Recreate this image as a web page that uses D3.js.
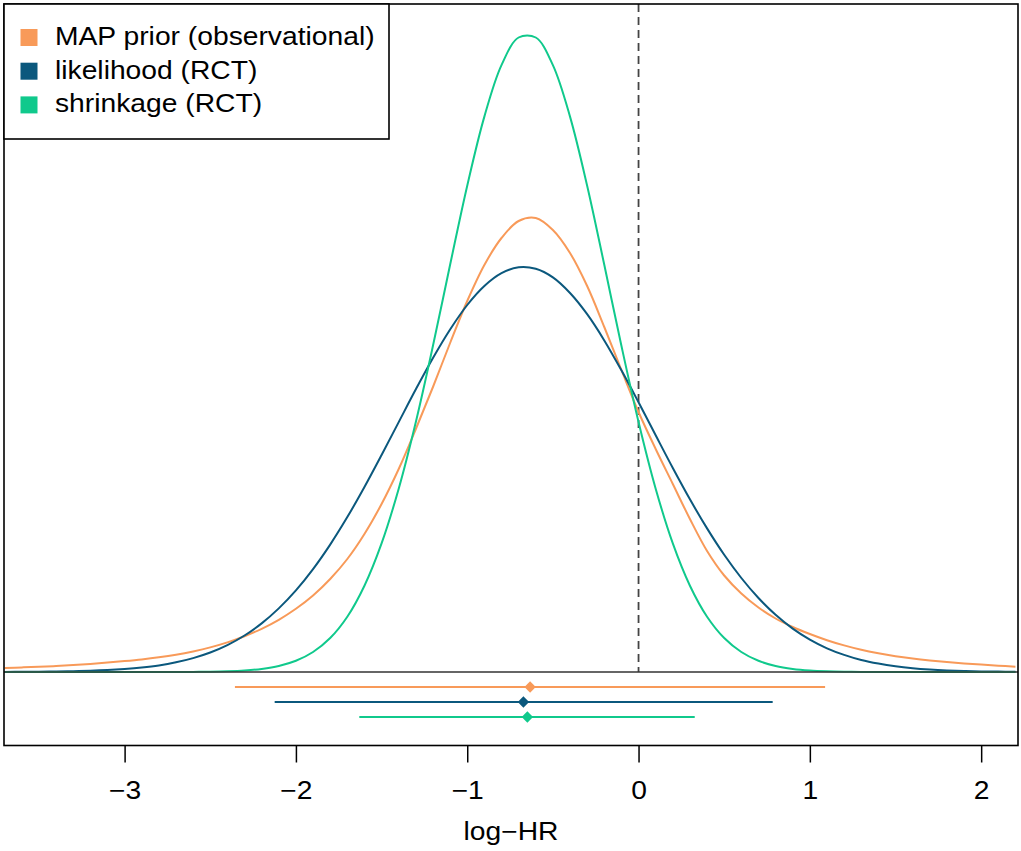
<!DOCTYPE html>
<html lang="en">
<head>
    <meta charset="UTF-8">
    <title>log-HR densities</title>
    <script src="https://d3js.org/d3.v7.min.js"></script>
    <style>
        body { margin: 0; background: #fff; }
        text { font-family: "Liberation Sans", Arial, Helvetica, sans-serif; fill: #000; }
    </style>
</head>
<body>
    <div id="my_dataviz"></div>

    <script>

        const logHR = [-3.7, -3.6, -3.5, -3.4, -3.3, -3.2, -3.1, -3.0, -2.9, -2.8,
                       -2.7, -2.6, -2.5, -2.4, -2.3, -2.2, -2.1, -2.0, -1.9, -1.8,
                       -1.7, -1.6, -1.5, -1.4, -1.3, -1.2, -1.1, -1.0, -0.9, -0.8,
                       -0.7, -0.6, -0.5, -0.4, -0.3, -0.2, -0.1, 0.0, 0.1, 0.2,
                       0.3, 0.4, 0.5, 0.6, 0.7, 0.8, 0.9, 1.0, 1.1, 1.2,
                       1.3, 1.4, 1.5, 1.6, 1.7, 1.8, 1.9, 2.0, 2.1, 2.2];

        // density values (arbitrary units)
        const mapPrior = [0.0040, 0.0046, 0.0052, 0.0060, 0.0070, 0.0081, 0.0094, 0.0109, 0.0126, 0.0147,
                          0.0173, 0.0206, 0.0246, 0.0296, 0.0358, 0.0432, 0.0522, 0.0632, 0.0765, 0.0930,
                          0.113, 0.138, 0.168, 0.203, 0.243, 0.285, 0.329, 0.371, 0.407, 0.434,
                          0.451, 0.454, 0.442, 0.419, 0.386, 0.345, 0.302, 0.260, 0.223, 0.188,
                          0.153, 0.121, 0.0965, 0.0785, 0.0645, 0.0535, 0.0450, 0.0380, 0.0318, 0.0266,
                          0.0222, 0.0187, 0.0158, 0.0135, 0.0116, 0.0100, 0.0086, 0.0074, 0.0063, 0.0053];

        const likelihood = [0.0001, 0.0002, 0.0003, 0.0005, 0.0008, 0.0012, 0.0019, 0.0030, 0.0045, 0.0066,
                            0.0097, 0.0139, 0.0195, 0.0269, 0.0365, 0.0486, 0.0636, 0.0816, 0.1029, 0.1274,
                            0.1549, 0.1850, 0.2170, 0.2499, 0.2827, 0.3140, 0.3425, 0.3670, 0.3860, 0.3988,
                            0.4047, 0.4032, 0.3946, 0.3790, 0.3578, 0.3316, 0.3017, 0.2697, 0.2367, 0.2040,
                            0.1727, 0.1436, 0.1172, 0.0940, 0.0740, 0.0572, 0.0434, 0.0324, 0.0237, 0.0171,
                            0.0120, 0.0084, 0.0057, 0.0038, 0.0025, 0.0016, 0.0010, 0.0006, 0.0004, 0.0002];

        const shrinkage = [0, 0, 0, 0, 0, 0, 0, 0, 0, 0,
                           0.0001, 0.0001, 0.0003, 0.0007, 0.0015, 0.0031, 0.0060, 0.0112, 0.0200, 0.0340,
                           0.0553, 0.0863, 0.1286, 0.1833, 0.2500, 0.3262, 0.4072, 0.4863, 0.5554, 0.6069,
                           0.6345, 0.6345, 0.6069, 0.5554, 0.4863, 0.4072, 0.3262, 0.2500, 0.1833, 0.1286,
                           0.0863, 0.0553, 0.0340, 0.0200, 0.0112, 0.0060, 0.0031, 0.0015, 0.0007, 0.0003,
                           0.0001, 0.0001, 0, 0, 0, 0, 0, 0, 0, 0];

        // intervals shown under the curves: lower, point estimate, upper
        const intervalLow  = [-2.356, -2.124, -1.630];
        const intervalMid  = [-0.633, -0.672, -0.649];
        const intervalHigh = [1.089, 0.783, 0.328];

        const seriesNames  = ["MAP prior (observational)", "likelihood (RCT)", "shrinkage (RCT)"];
        const seriesColors = ["#f89a59", "#0b587d", "#10c98c"];
        const tickValues   = [-3, -2, -1, 0, 1, 2];

        // set the dimensions of the graph
        const W = 1021, H = 851;
        const box = {left: 4, right: 1018, top: 4, bottom: 745.5};
        const sx = 1.13; // horizontal stretch of the text

        const svg = d3.select("#my_dataviz")
            .append("svg")
            .attr("width", W)
            .attr("height", H);

        const x = d3.scaleLinear()
            .domain([-3.704, 2.215])
            .range([box.left, box.right]);

        const y = d3.scaleLinear()
            .domain([-0.0735, 0.668])
            .range([box.bottom, box.top]);

        svg.append("clipPath").attr("id", "clip")
            .append("rect")
            .attr("x", box.left).attr("y", box.top)
            .attr("width", box.right - box.left)
            .attr("height", box.bottom - box.top);

        const plot = svg.append("g").attr("clip-path", "url(#clip)");

        // dashed vertical line at log-HR = 0
        plot.append("line")
            .attr("x1", x(0)).attr("x2", x(0))
            .attr("y1", box.top).attr("y2", y(0))
            .attr("stroke", "#444").attr("stroke-width", 1.8)
            .attr("stroke-dasharray", "8,5");

        // density curves
        const curves = [mapPrior, likelihood, shrinkage];
        const line = d3.line()
            .x(d => x(d[0]))
            .y(d => y(d[1]))
            .curve(d3.curveCatmullRom.alpha(0.5));

        curves.forEach((vals, i) => {
            plot.append("path")
                .datum(logHR.map((v, j) => [v, vals[j]]))
                .attr("fill", "none")
                .attr("stroke", seriesColors[i])
                .attr("stroke-width", 2)
                .attr("d", line);
        });

        // zero line of the densities
        plot.append("line")
            .attr("x1", box.left).attr("x2", box.right)
            .attr("y1", y(0)).attr("y2", y(0))
            .attr("stroke", "#333").attr("stroke-width", 1.6);

        // intervals with point estimates
        const rows = seriesNames.map((n, i) => -0.015 * (i + 1));
        seriesNames.forEach((n, i) => {
            plot.append("line")
                .attr("x1", x(intervalLow[i])).attr("x2", x(intervalHigh[i]))
                .attr("y1", y(rows[i])).attr("y2", y(rows[i]))
                .attr("stroke", seriesColors[i]).attr("stroke-width", 2);
            plot.append("path")
                .attr("d", d3.symbol(d3.symbolSquare, 64)())
                .attr("transform", `translate(${x(intervalMid[i])},${y(rows[i])}) rotate(45)`)
                .attr("fill", seriesColors[i]);
        });

        // box round the plot
        svg.append("rect")
            .attr("x", box.left).attr("y", box.top)
            .attr("width", box.right - box.left)
            .attr("height", box.bottom - box.top)
            .attr("fill", "none")
            .attr("stroke", "#000").attr("stroke-width", 1.6);

        // X axis
        const xAxis = svg.append("g")
            .attr("transform", `translate(0,${box.bottom})`)
            .call(d3.axisBottom(x).tickValues(tickValues).tickFormat(d3.format("d"))
                  .tickSize(17).tickSizeOuter(0));
        xAxis.select(".domain").remove();
        xAxis.selectAll(".tick line").attr("stroke", "#000").attr("stroke-width", 1.5);
        xAxis.selectAll(".tick text")
            .attr("y", 53.5).attr("dy", null)
            .attr("transform", `scale(${sx},1)`)
            .style("font-size", "25px")
            .style("font-family", "'Liberation Sans', Arial, sans-serif")
            .attr("fill", "#000");

        svg.append("text")
            .attr("transform", `translate(${(box.left + box.right) / 2},840) scale(${sx},1)`)
            .attr("text-anchor", "middle")
            .style("font-size", "25px")
            .text("log\u2212HR");

        // legend
        const legend = svg.append("g");
        legend.append("rect")
            .attr("x", box.left).attr("y", box.top)
            .attr("width", 385).attr("height", 135)
            .attr("fill", "#fff")
            .attr("stroke", "#000").attr("stroke-width", 1.6);

        seriesNames.forEach((n, i) => {
            const base = 45 + i * 33.7;
            legend.append("rect")
                .attr("x", 20.5).attr("y", base - 16)
                .attr("width", 17).attr("height", 17)
                .attr("fill", seriesColors[i]);
            legend.append("text")
                .attr("transform", `translate(55,${base}) scale(${sx},1)`)
                .style("font-size", "25px")
                .text(n);
        });

    </script>
</body>
</html>
